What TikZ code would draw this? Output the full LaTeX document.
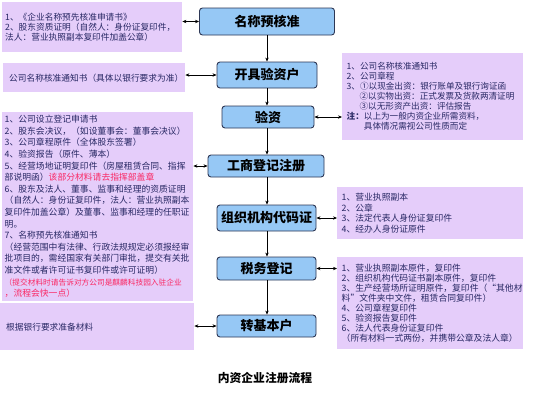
\documentclass[tikz,border=0pt]{standalone}
\usepackage{fontspec}
\newfontfamily\cjk{Noto Sans CJK SC}
\usetikzlibrary{arrows.meta}
\definecolor{sidefill}{RGB}{229,205,250}
\definecolor{sidetext}{RGB}{40,40,100}
\definecolor{boxfill}{RGB}{150,200,245}
\definecolor{boxline}{RGB}{45,55,85}
\definecolor{redtext}{RGB}{250,40,100}
\newcommand{\sidefont}{\cjk\fontsize{8.7}{9.8}\selectfont}
\newcommand{\redpart}[1]{{\color{redtext}#1}}
\tikzset{
  sidebox/.style={fill=sidefill, text=sidetext, align=left, anchor=north west,
    inner sep=3pt, font=\sidefont},
  stepbox/.style={draw=boxline, fill=boxfill, rounded corners=3pt, line width=0.9pt,
    font=\cjk\bfseries\fontsize{13}{15}\selectfont, text=black, inner sep=1pt},
  link/.style={line width=0.6pt, {Stealth[length=4pt,width=3.4pt]}-{Stealth[length=4pt,width=3.4pt]}},
  flow/.style={line width=0.6pt, -{Stealth[length=4pt,width=3.4pt]}}
}
\begin{document}
\begin{tikzpicture}[x=1pt,y=-1pt]
\useasboundingbox[fill=white] (0,0) rectangle (533,400);

% center steps
\node[stepbox, minimum width=135pt, minimum height=27pt] (A) at (267,21.5) {名称预核准};
\node[stepbox, minimum width=100pt, minimum height=26pt] (B) at (267,75) {开具验资户};
\node[stepbox, minimum width=92pt, minimum height=22pt] (C) at (268,117) {验资};
\node[stepbox, minimum width=116pt, minimum height=22pt] (D) at (266,166) {工商登记注册};
\node[stepbox, minimum width=99pt, minimum height=26pt] (E) at (266.5,218) {组织机构代码证};
\node[stepbox, minimum width=99pt, minimum height=23pt] (F) at (266.5,268.5) {税务登记};
\node[stepbox, minimum width=99pt, minimum height=22pt] (G) at (266.5,326) {转基本户};

% side boxes
\node[sidebox, text width=174pt, minimum height=50pt] (L1) at (2,2)
{1、《企业名称预先核准申请书》\\
2、股东资质证明（自然人：身份证复印件，\\
法人：营业执照副本复印件加盖公章）};

\node[sidebox, text width=170pt, minimum height=29pt, inner xsep=6pt] (L2) at (3,63)
{公司名称核准通知书（具体以银行要求为准）};

\node[sidebox, text width=186pt, minimum height=175pt, inner xsep=2.5pt,
  font=\cjk\fontsize{8.8}{11.6}\selectfont] (L3) at (2,112)
{1、公司设立登记申请书\\
2、股东会决议，（如设董事会：董事会决议）\\
3、公司章程原件（全体股东签署）\\
4、验资报告（原件、薄本）\\
5、经营场地证明复印件（房屋租赁合同、指挥\\
部说明函）\redpart{该部分材料请去指挥部盖章}\\
6、股东及法人、董事、监事和经理的资质证明\\
（自然人：身份证复印件，法人：营业执照副本\\
复印件加盖公章）及董事、监事和经理的任职证\\
明。\\
7、名称预先核准通知书\\
（经营范围中有法律、行政法规规定必须报经审\\
批项目的，需经国家有关部门审批，提交有关批\\
准文件或者许可证书复印件或许可证明）\\
\redpart{\fontsize{7.7}{11.6}\selectfont （提交材料时请告诉对方公司是麒麟科技园入驻企业}\\
\redpart{，流程会快一点）}};

\node[sidebox, text width=182pt, minimum height=47pt, inner xsep=6pt] (L4) at (0,303)
{根据银行要求准备材料};

\node[sidebox, text width=172pt, minimum height=87pt, inner xsep=4.5pt,
  font=\cjk\fontsize{8.6}{10}\selectfont] (R1) at (342,53)
{1、公司名称核准通知书\\
2、公司章程\\
3、①以现金出资：银行账单及银行询证函\\
\hspace*{1.5em}②以实物出资：正式发票及货款两清证明\\
\hspace*{1.5em}③以无形资产出资：评估报告\\
\textbf{注：}以上为一般内资企业所需资料，\\
\hspace*{2em}具体情况需视公司性质而定};

\node[sidebox, text width=177pt, minimum height=52pt, inner xsep=4.5pt,
  font=\cjk\fontsize{8.8}{10.5}\selectfont] (R2) at (337,187)
{1、营业执照副本\\
2、公章\\
3、法定代表人身份证复印件\\
4、经办人身份证原件};

\node[sidebox, text width=177pt, minimum height=92pt, inner xsep=4.5pt,
  font=\cjk\fontsize{8.8}{10}\selectfont] (R3) at (337,257)
{1、营业执照副本原件，复印件\\
2、组织机构代码证书副本原件，复印件\\
3、生产经营场所证明原件，复印件（“其他材\\
料”文件夹中文件，租赁合同复印件）\\
4、公司章程复印件\\
5、验资报告复印件\\
6、法人代表身份证复印件\\
（所有材料一式两份，并携带公章及法人章）};

% title
\node[font=\cjk\bfseries\fontsize{11.8}{13}\selectfont, text=black] (T) at (265,378) {内资企业注册流程};

% vertical flow
\draw[flow] (A.south) -- (A.south |- B.north);
\draw[flow] (B.south) -- (B.south |- C.north);
\draw[flow] (B.south |- C.south) -- (B.south |- D.north);
\draw[flow] (B.south |- D.south) -- (B.south |- E.north);
\draw[flow] (B.south |- E.south) -- (B.south |- F.north);
\draw[flow] (B.south |- F.south) -- (B.south |- G.north);

% side links
\draw[link] (A.west) -- (A.west -| L1.east);
\draw[link] (B.west) -- (B.west -| L2.east);
\draw[link] (C.east) -- (C.east -| R1.west);
\draw[link] (D.west) -- (D.west -| L3.east);
\draw[link] (E.east) -- (E.east -| R2.west);
\draw[link] (F.east) -- (F.east -| R3.west);
\draw[link] (G.west) -- (G.west -| L4.east);
\end{tikzpicture}
\end{document}
